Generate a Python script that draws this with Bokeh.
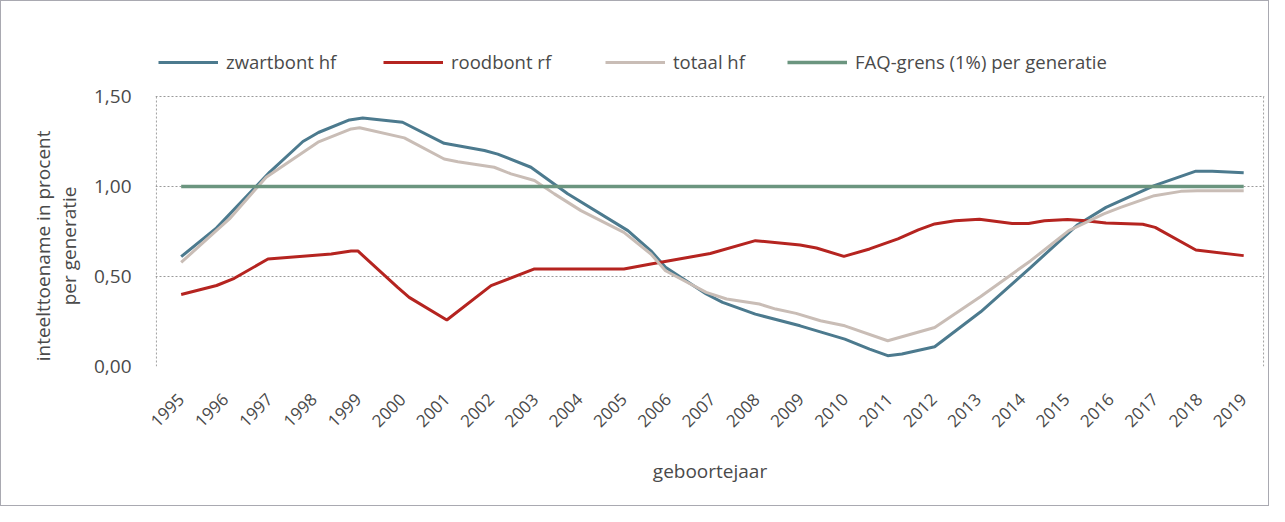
import math
from bokeh.plotting import figure
from bokeh.models import Range1d, FixedTicker, Legend, LegendItem
from bokeh.embed import file_html
from bokeh.resources import INLINE

# ---------------- data ----------------
years = [1995, 1996, 1997, 1998, 1999, 2000, 2001, 2002, 2003, 2004, 2005, 2006,
         2007, 2008, 2009, 2010, 2011, 2012, 2013, 2014, 2015, 2016, 2017, 2018, 2019]
y_ticks = [0.0, 0.5, 1.0, 1.5]
y_tick_labels = ["0,00", "0,50", "1,00", "1,50"]

series_names = ["zwartbont hf", "roodbont rf", "totaal hf", "FAQ-grens (1%) per generatie"]
y_title_lines = ["inteelttoename in procent", "per generatie"]
x_title = "geboortejaar"

zw_x = [1995.0, 1995.8, 1997.0, 1997.75, 1998.1, 1998.8, 1999.1, 2000.0, 2000.94, 2001.85,
        2002.15, 2002.9, 2003.73, 2005.09, 2005.61, 2005.94, 2006.86, 2007.23, 2007.97,
        2008.98, 2009.99, 2010.55, 2010.96, 2011.28, 2012.02, 2013.06, 2014.19, 2015.25,
        2015.89, 2016.98, 2017.92, 2018.29, 2019.0]
zw_y = [0.61, 0.77, 1.08, 1.25, 1.30, 1.37, 1.38, 1.357, 1.24, 1.20,
        1.18, 1.107, 0.96, 0.755, 0.643, 0.551, 0.403, 0.356, 0.291,
        0.226, 0.152, 0.097, 0.06, 0.069, 0.11, 0.304, 0.551, 0.788,
        0.884, 1.005, 1.085, 1.085, 1.076]

rb_x = [1995.0, 1995.8, 1996.2, 1996.96, 1998.39, 1998.84, 1998.99, 1999.89, 2000.15, 2001.0,
        2002.0, 2002.98, 2005.0, 2005.61, 2006.95, 2007.97, 2008.98, 2009.35, 2009.97, 2010.55,
        2011.19, 2011.65, 2012.02, 2012.48, 2013.03, 2013.77, 2014.14, 2014.5, 2015.02,
        2015.43, 2015.89, 2016.72, 2017.0, 2017.92, 2019.0]
rb_y = [0.40, 0.45, 0.49, 0.597, 0.625, 0.642, 0.642, 0.439, 0.384, 0.258,
        0.449, 0.542, 0.542, 0.569, 0.628, 0.699, 0.675, 0.658, 0.612, 0.653,
        0.709, 0.759, 0.792, 0.81, 0.818, 0.795, 0.795, 0.81, 0.816,
        0.81, 0.797, 0.79, 0.773, 0.647, 0.616]

tot_x = [1995.0, 1995.75, 1996.09, 1996.92, 1998.09, 1998.84, 1999.03, 2000.04, 2000.94, 2001.25,
         2002.07, 2002.45, 2002.98, 2003.43, 2004.03, 2005.0, 2005.61, 2005.94, 2006.86, 2007.32,
         2008.06, 2008.43, 2008.89, 2009.44, 2009.99, 2010.96, 2012.02, 2013.06, 2014.19, 2014.64,
         2015.05, 2015.84, 2016.22, 2016.98, 2017.58, 2017.95, 2019.0]
tot_y = [0.578, 0.745, 0.82, 1.051, 1.246, 1.32, 1.326, 1.27, 1.153, 1.138,
         1.107, 1.07, 1.033, 0.959, 0.866, 0.745, 0.625, 0.532, 0.412, 0.375,
         0.347, 0.319, 0.295, 0.254, 0.226, 0.143, 0.217, 0.389, 0.588, 0.675,
         0.755, 0.848, 0.884, 0.949, 0.973, 0.977, 0.977]

faq_x = [1995, 2019]
faq_y = [1.0, 1.0]

# ---------------- style ----------------
FONT = "Open Sans"
TXT = "#4a4a4a"
GRID = "#9a9a9a"
colors = ["#4C7A8E", "#B52420", "#C9BDB6", "#6B957F"]

X0, X1 = 1994.42, 2019.47          # frame x extent
Y0, Y1 = 0.0, 1.8333               # frame y extent (top part holds the legend)
BOX_L, BOX_R, BOX_T = 1994.44, 2019.45, 1.5   # dotted plot-area box

p = figure(width=1269, height=506, output_backend="svg", toolbar_location=None,
           x_range=Range1d(X0, X1), y_range=Range1d(Y0, Y1),
           min_border_left=154, min_border_right=6, min_border_top=35, min_border_bottom=141)
p.styles = {"border": "1px solid #A9A9B1"}
p.background_fill_color = "white"
p.border_fill_color = "white"
p.outline_line_color = None

p.xgrid.visible = False
p.ygrid.ticker = FixedTicker(ticks=y_ticks)
p.ygrid.grid_line_color = GRID
p.ygrid.grid_line_dash = "2 2"
p.ygrid.grid_line_width = 1

# dotted vertical sides of the plot area
p.segment(x0=[BOX_L, BOX_R], y0=[0, 0], x1=[BOX_L, BOX_R], y1=[BOX_T, BOX_T],
          line_color=GRID, line_dash="2 2", line_width=1)

# x axis
xa = p.xaxis[0]
xa.ticker = FixedTicker(ticks=years)
xa.major_label_orientation = math.pi / 4
xa.axis_line_color = None
xa.major_tick_line_color = None
xa.minor_tick_line_color = None
xa.major_label_standoff = 24
xa.major_label_text_font = FONT
xa.major_label_text_font_size = "17px"
xa.major_label_text_color = TXT
xa.axis_label = x_title
xa.axis_label_text_font = FONT
xa.axis_label_text_font_size = "19px"
xa.axis_label_text_font_style = "normal"
xa.axis_label_text_color = TXT
xa.axis_label_standoff = 23

# y axis
ya = p.yaxis[0]
ya.ticker = FixedTicker(ticks=y_ticks)
ya.major_label_overrides = {t: l for t, l in zip(y_ticks, y_tick_labels)}
ya.axis_line_color = None
ya.major_tick_line_color = None
ya.minor_tick_line_color = None
ya.major_label_standoff = 18
ya.major_label_text_font = FONT
ya.major_label_text_font_size = "19px"
ya.major_label_text_color = TXT
# trailing no-break spaces push the centred title down to the middle of the plot box
PAD = "\u00a0" * 18
ya.axis_label = "\n".join(line + PAD for line in y_title_lines)
ya.axis_label_text_font = FONT
ya.axis_label_text_font_size = "19px"
ya.axis_label_text_font_style = "normal"
ya.axis_label_text_color = TXT
ya.axis_label_text_line_height = 1.0
ya.axis_label_standoff = 9

# lines (Excel order: later series on top)
r_zw = p.line(zw_x, zw_y, line_color=colors[0], line_width=3)
r_rb = p.line(rb_x, rb_y, line_color=colors[1], line_width=3)
r_tot = p.line(tot_x, tot_y, line_color=colors[2], line_width=3)
r_faq = p.line(faq_x, faq_y, line_color=colors[3], line_width=3.5)

# legends: one per item, inside the (extended) frame, above the plot box
leg_x = [3, 228, 450, 632]
for name, rend, lx in zip(series_names, [r_zw, r_rb, r_tot, r_faq], leg_x):
    leg = Legend(items=[LegendItem(label=name, renderers=[rend])],
                 location=(lx, 292), orientation="horizontal",
                 glyph_width=60, glyph_height=20, label_height=20,
                 label_standoff=8, padding=0, margin=0, spacing=0,
                 background_fill_alpha=0, border_line_color=None,
                 label_text_font=FONT, label_text_font_size="18.5px",
                 label_text_color=TXT)
    p.add_layout(leg, "center")

open("out.html", "w").write(file_html(p, INLINE))
